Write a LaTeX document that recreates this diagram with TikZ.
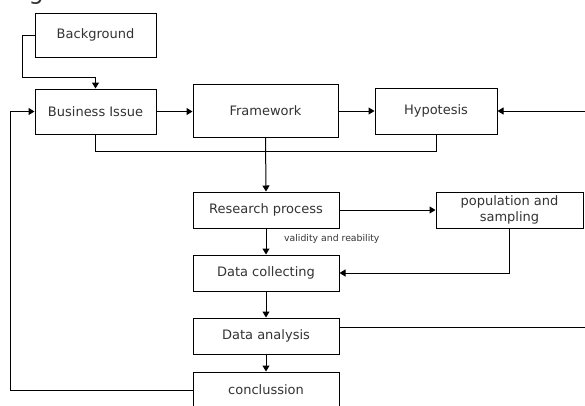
\documentclass[tikz,border=0pt]{standalone}
\usepackage{fontspec}
\setmainfont{DejaVu Sans}
\usetikzlibrary{arrows.meta}
\definecolor{txt}{HTML}{333333}
\tikzset{
  box/.style={draw=black, line width=1pt, fill=white, text=txt, font=\fontsize{13}{15.5}\selectfont, align=center, inner sep=0pt},
  conn/.style={draw=black, line width=1pt},
  arr/.style={conn, -{Triangle[length=6pt,width=7pt]}},
}
\begin{document}
\begin{tikzpicture}[x=1pt,y=-1pt]
\useasboundingbox (0,0) rectangle (585,405);
\node[text=txt, font=\fontsize{24}{26}\selectfont, anchor=base west] (frag) at (25,-1) {g};
\node[box, minimum width=121pt, minimum height=44pt] (bg) at (95.5,35) {Background};
\node[box, minimum width=121pt, minimum height=45pt] (bi) at (95.5,111.5) {Business Issue};
\node[box, minimum width=145pt, minimum height=53pt] (fw) at (265.5,110.5) {Framework};
\node[box, minimum width=122pt, minimum height=46pt] (hy) at (436,111) {Hypotesis};
\node[box, minimum width=146pt, minimum height=36pt] (rp) at (266,210) {Research process};
\node[box, minimum width=147pt, minimum height=36pt] (ps) at (509.5,210) {population and\\sampling};
\node[box, minimum width=146pt, minimum height=36pt] (dc) at (266,273) {Data collecting};
\node[box, minimum width=146pt, minimum height=36pt] (da) at (266,336) {Data analysis};
\node[box, minimum width=146pt, minimum height=36pt] (cc) at (266,390) {conclussion};
\coordinate (rtop) at (586,111);
\coordinate (rbot) at (586,327);
\coordinate (join) at (95.5,151);
\node[anchor=west, inner sep=0pt, text=txt, font=\fontsize{9.3}{11}\selectfont] (lbl) at (284,238.5) {validity and reability};
% connectors
\draw[arr] (bg.west) -- (22,35) -- (22,77) -- (95.5,77) -- (bi.north);
\draw[arr] (bi.east) -- (fw.west |- bi.east);
\draw[arr] (fw.east |- hy.west) -- (hy.west);
\draw[arr] (rtop) -- (hy.east);
\draw[conn] (bi.south) -- (join) -- (hy.south |- join) -- (hy.south);
\draw[arr] (fw.south) -- (rp.north);
\draw[arr] (rp.south) -- (dc.north);
\draw[arr] (rp.east) -- (ps.west);
\draw[arr] (ps.south) -- (ps.south |- dc.east) -- (dc.east);
\draw[arr] (dc.south) -- (da.north);
\draw[conn] (da.east |- rbot) -- (rbot);
\draw[arr] (da.south) -- (cc.north);
\draw[arr] (cc.west) -- (10,390) -- (10,111.5) -- (bi.west);
\end{tikzpicture}
\end{document}
